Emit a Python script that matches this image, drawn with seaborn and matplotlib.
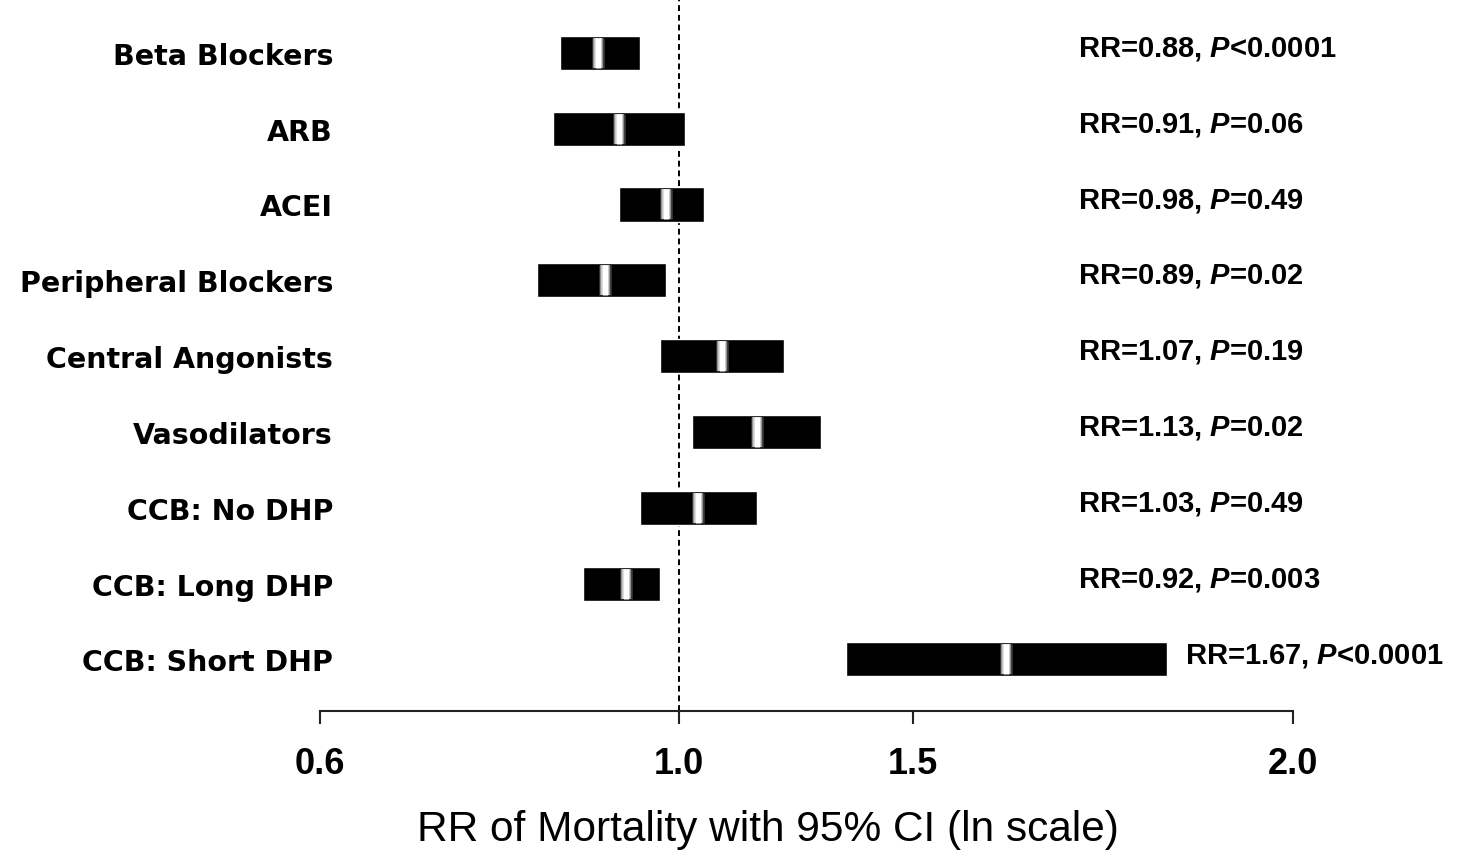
import matplotlib
matplotlib.use("Agg")
import numpy as np
import pandas as pd
import matplotlib.pyplot as plt
import seaborn as sns
from matplotlib.ticker import FixedLocator, FixedFormatter, NullLocator

# Antihypertensive drug classes and their mortality risk ratios
drugs = ["Beta Blockers", "ARB", "ACEI", "Peripheral Blockers", "Central Angonists",
         "Vasodilators", "CCB: No DHP", "CCB: Long DHP", "CCB: Short DHP"]
rr = [0.88, 0.91, 0.98, 0.89, 1.07, 1.13, 1.03, 0.92, 1.67]
ci_low = [0.83, 0.82, 0.91, 0.80, 0.97, 1.02, 0.94, 0.86, 1.30]
ci_high = [0.94, 1.01, 1.04, 0.98, 1.18, 1.25, 1.13, 0.97, 2.15]
p_values = ["<0.0001", "=0.06", "=0.49", "=0.02", "=0.19", "=0.02", "=0.49", "=0.003", "<0.0001"]
tick_labels = ["0.6", "1.0", "1.5", "2.0"]

df = pd.DataFrame({"drug": drugs, "rr": rr, "low": ci_low, "high": ci_high, "p": p_values})
df["row"] = np.arange(len(df))

sns.set_theme(style="white")
plt.rcParams["font.family"] = ["Liberation Sans", "DejaVu Sans"]
plt.rcParams["mathtext.fontset"] = "custom"
plt.rcParams["mathtext.it"] = "Liberation Sans:italic:bold"
plt.rcParams["mathtext.rm"] = "Liberation Sans:bold"
for key in ["text.color", "axes.labelcolor", "xtick.color", "ytick.color"]:
    plt.rcParams[key] = "black"

fig = plt.figure(figsize=(14.64, 8.53), dpi=100)
ax = fig.add_axes([0.2186, 0.1653, 0.6646, 0.8347])
ax.set_xscale("log")
xmin, xmax = 0.5692, 2.622
ax.set_xlim(xmin, xmax)
ax.set_ylim(len(df) - 0.32, -0.71)

# reference line at RR = 1
ax.axvline(1.0, color="black", lw=1.4, ls=(0, (3, 2)), zorder=1)

# confidence interval bars
ax.barh(df["row"], df["high"] - df["low"], left=df["low"], height=0.45,
        color="black", zorder=2)

# point estimates as soft white stripes
for col, lw in [("#404040", 9.0), ("#909090", 7.2), ("#d8d8d8", 5.4), ("white", 3.8)]:
    sns.scatterplot(data=df, x="rr", y="row", marker="|", s=460, color=col,
                    linewidth=lw, ax=ax, zorder=3, legend=False)

# value annotations on the right
text_col = 1.87
gap = 1.029
for _, r in df.iterrows():
    x = max(text_col, r["high"] * gap)
    ax.annotate(f"RR={r['rr']:.2f}, $\\mathit{{P}}${r['p']}", xy=(x, r["row"]),
                xytext=(0, 3.5), textcoords="offset points", ha="left", va="center",
                fontsize=21, fontweight="bold", color="black", annotation_clip=False)

# x axis
ax.xaxis.set_major_locator(FixedLocator([xmin, 1.0, 1.444, xmax]))
ax.xaxis.set_major_formatter(FixedFormatter(tick_labels))
ax.xaxis.set_minor_locator(NullLocator())
ax.tick_params(axis="x", which="major", bottom=True, direction="out", length=9.4,
               width=1.5, color="#222222", labelcolor="black", pad=16, labelsize=26)
for t in ax.get_xticklabels():
    t.set_fontweight("bold")

ax.set_xlabel("RR of Mortality with 95% CI (ln scale)", fontsize=30.5, color="black")
ax.xaxis.label.set_va("center")
ax.xaxis.set_label_coords(0.4604, -0.166)

# category labels
ax.set_yticks(df["row"])
ax.set_yticklabels(df["drug"], fontsize=20.5, fontweight="bold",
                   family=["DejaVu Sans"], color="black")
ax.tick_params(axis="y", length=0, pad=-9.4)
ax.set_ylabel("")

for s in ["left", "top", "right"]:
    ax.spines[s].set_visible(False)
ax.spines["bottom"].set_color("#222222")
ax.spines["bottom"].set_linewidth(1.5)

fig.savefig("out.png", dpi=100, facecolor="white")
